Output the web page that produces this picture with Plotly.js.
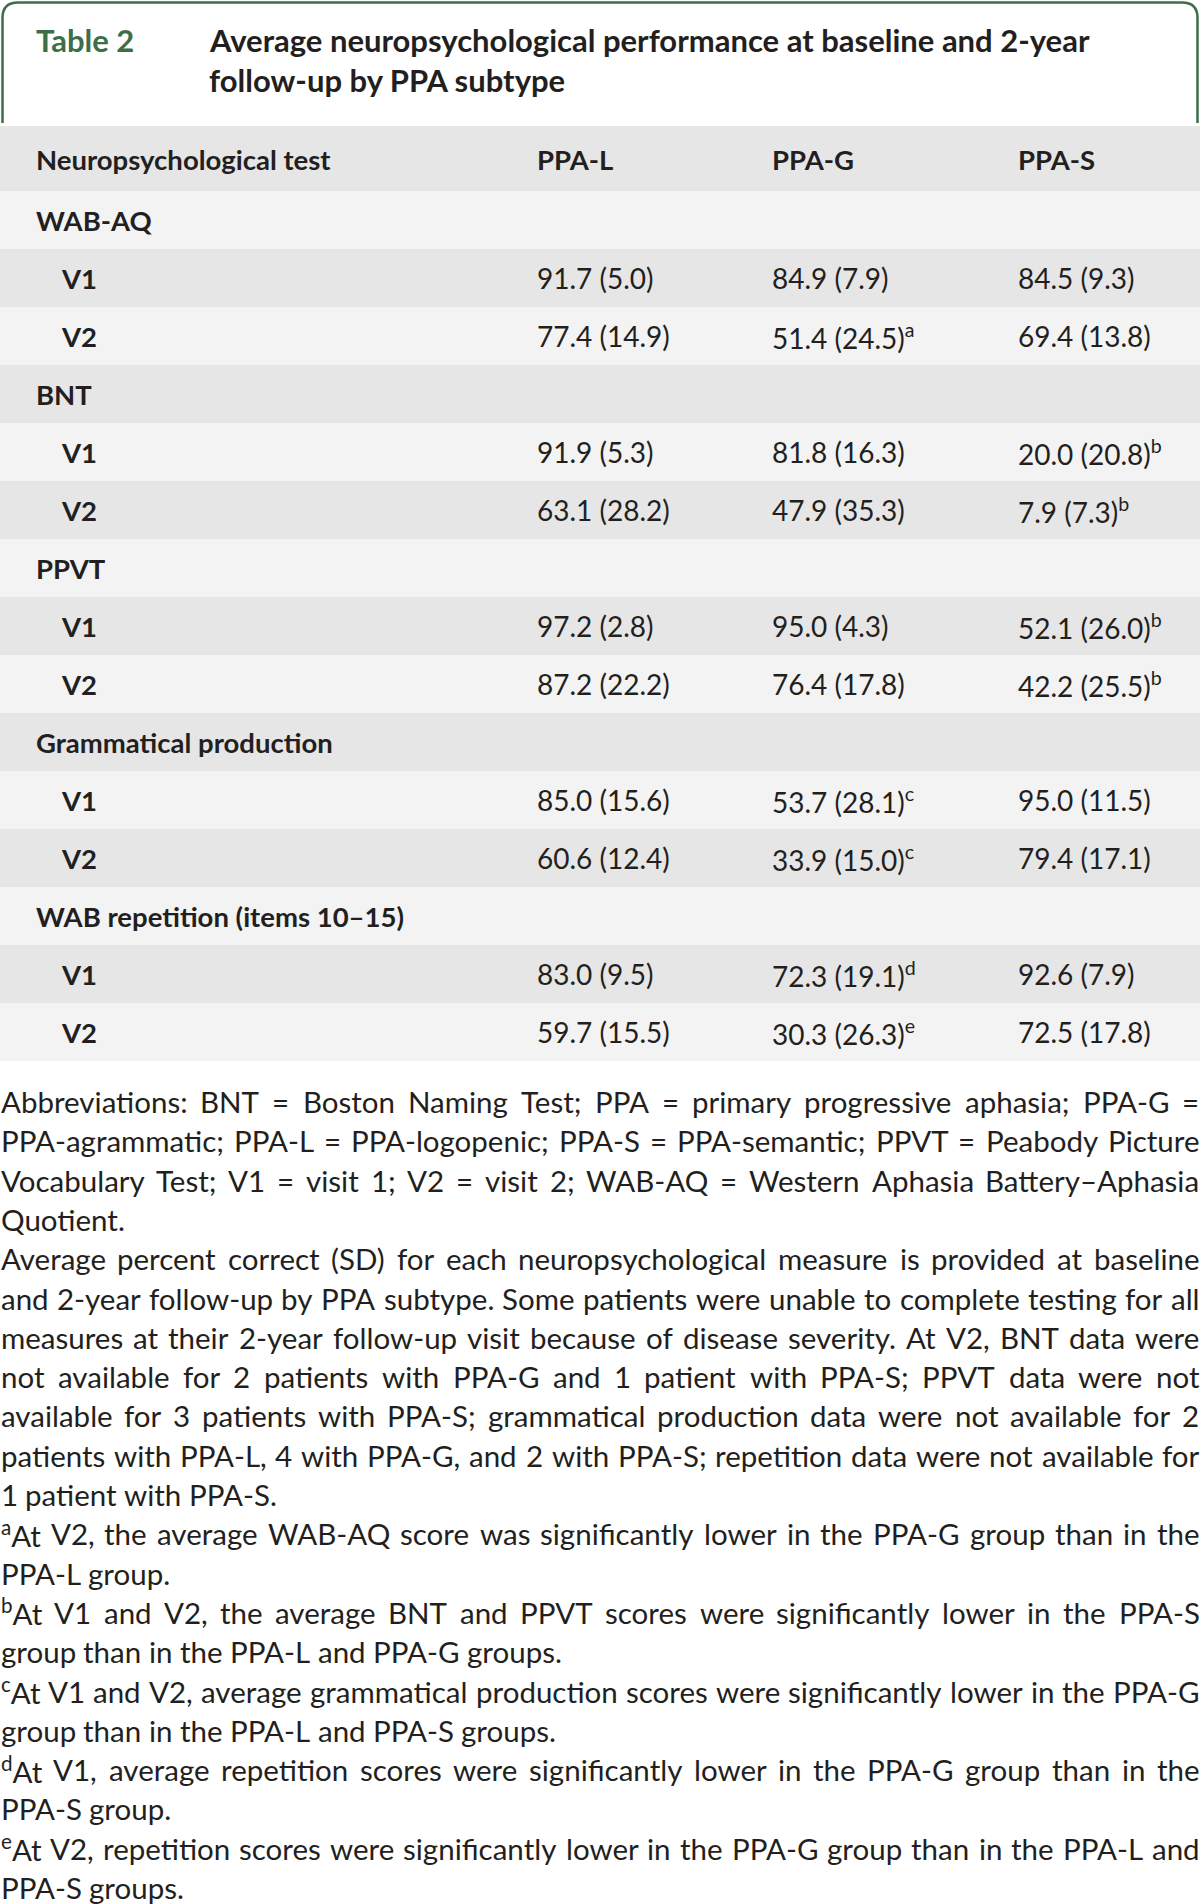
<!DOCTYPE html>
<html><head><meta charset="utf-8">
<script src="https://cdn.plot.ly/plotly-3.0.1.min.js"></script>
<style>html,body{margin:0;padding:0;background:#fff}</style>
</head><body><div id="chart" style="width:1200px;height:1904px"></div>
<script>
// ---------------- data ----------------
const tableLabel = "Table 2";
const titleLines = ["Average neuropsychological performance at baseline and 2-year", "follow-up by PPA subtype"];
const columnHeaders = ["Neuropsychological test", "PPA-L", "PPA-G", "PPA-S"];
const tests = ["WAB-AQ", "BNT", "PPVT", "Grammatical production", "WAB repetition (items 10–15)"];
const visits = ["V1", "V2"];
const ppaL_mean = [[91.7, 77.4], [91.9, 63.1], [97.2, 87.2], [85.0, 60.6], [83.0, 59.7]];
const ppaL_sd   = [[5.0, 14.9], [5.3, 28.2], [2.8, 22.2], [15.6, 12.4], [9.5, 15.5]];
const ppaL_note = [["", ""], ["", ""], ["", ""], ["", ""], ["", ""]];
const ppaG_mean = [[84.9, 51.4], [81.8, 47.9], [95.0, 76.4], [53.7, 33.9], [72.3, 30.3]];
const ppaG_sd   = [[7.9, 24.5], [16.3, 35.3], [4.3, 17.8], [28.1, 15.0], [19.1, 26.3]];
const ppaG_note = [["", "a"], ["", ""], ["", ""], ["c", "c"], ["d", "e"]];
const ppaS_mean = [[84.5, 69.4], [20.0, 7.9], [52.1, 42.2], [95.0, 79.4], [92.6, 72.5]];
const ppaS_sd   = [[9.3, 13.8], [20.8, 7.3], [26.0, 25.5], [11.5, 17.1], [7.9, 17.8]];
const ppaS_note = [["", ""], ["b", "b"], ["b", "b"], ["", ""], ["", ""]];

const footnoteParagraphs = [
  ["Abbreviations: BNT = Boston Naming Test; PPA = primary progressive aphasia; PPA-G =",
   "PPA-agrammatic; PPA-L = PPA-logopenic; PPA-S = PPA-semantic; PPVT = Peabody Picture",
   "Vocabulary Test; V1 = visit 1; V2 = visit 2; WAB-AQ = Western Aphasia Battery–Aphasia",
   "Quotient."],
  ["Average percent correct (SD) for each neuropsychological measure is provided at baseline",
   "and 2-year follow-up by PPA subtype. Some patients were unable to complete testing for all",
   "measures at their 2-year follow-up visit because of disease severity. At V2, BNT data were",
   "not available for 2 patients with PPA-G and 1 patient with PPA-S; PPVT data were not",
   "available for 3 patients with PPA-S; grammatical production data were not available for 2",
   "patients with PPA-L, 4 with PPA-G, and 2 with PPA-S; repetition data were not available for",
   "1 patient with PPA-S."],
  ["<sup>a</sup>At V2, the average WAB-AQ score was significantly lower in the PPA-G group than in the",
   "PPA-L group."],
  ["<sup>b</sup>At V1 and V2, the average BNT and PPVT scores were significantly lower in the PPA-S",
   "group than in the PPA-L and PPA-G groups."],
  ["<sup>c</sup>At V1 and V2, average grammatical production scores were significantly lower in the PPA-G",
   "group than in the PPA-L and PPA-S groups."],
  ["<sup>d</sup>At V1, average repetition scores were significantly lower in the PPA-G group than in the",
   "PPA-S group."],
  ["<sup>e</sup>At V2, repetition scores were significantly lower in the PPA-G group than in the PPA-L and",
   "PPA-S groups."]
];

// ---------------- style / layout ----------------
const FAMILY = 'Lato';
const ink = '#231f20', green = '#3c6e47';
const darkRow = '#e6e6e6', lightRow = '#f3f3f3';
const W = 1200, H = 1904;
const headTop = 126, headBot = 191, rowH = 58.0;
const colX = [36, 537, 772, 1018];
const indentX = 61;
const valueSize = 28, labelSize = 27.5, titleSize = 31, noteSize = 29.5;
const noteTop = 1101.5, noteStep = 39.3;

const cv = document.createElement('canvas').getContext('2d');
function measure(txt, size, weight) {
  let w = 0;
  const parts = txt.split(/(<sup>.*?<\/sup>)/);
  parts.forEach(p => {
    if (!p) return;
    const m = p.match(/^<sup>(.*)<\/sup>$/);
    if (m) { cv.font = `${weight || 'normal'} ${size * 0.7}px ${FAMILY}`; w += cv.measureText(m[1]).width; }
    else { cv.font = `${weight || 'normal'} ${size}px ${FAMILY}`; w += cv.measureText(p).width; }
  });
  return w;
}

const shapes = [];
const annotations = [];
function ann(text, x, y, size, opts) {
  annotations.push(Object.assign({
    text: text, x: x, y: y, xref: 'x', yref: 'y', xanchor: 'left', yanchor: 'middle',
    showarrow: false, borderpad: 0, borderwidth: 0,
    font: {family: FAMILY, size: size, color: ink}
  }, opts || {}));
}

// title frame
shapes.push({type: 'path', xref: 'x', yref: 'y',
  path: 'M 2.5,123 L 2.5,18 Q 2.5,2.5 18,2.5 L 1182,2.5 Q 1197.5,2.5 1197.5,18 L 1197.5,123',
  line: {color: green, width: 2.5}});
ann(`<b>${tableLabel}</b>`, 36, 40, titleSize, {font: {family: FAMILY, size: titleSize, color: green}});
titleLines.forEach((t, i) => ann(`<b>${t}</b>`, 209, 40 + i * 40, titleSize));

// header row
shapes.push({type: 'rect', xref: 'x', yref: 'y', x0: 0, x1: W, y0: headTop, y1: headBot, fillcolor: darkRow, line: {width: 0}, layer: 'below'});
columnHeaders.forEach((h, c) => ann(`<b>${h}</b>`, colX[c], (headTop + headBot) / 2 + 1, labelSize));

// body rows
const groups = [[ppaL_mean, ppaL_sd, ppaL_note], [ppaG_mean, ppaG_sd, ppaG_note], [ppaS_mean, ppaS_sd, ppaS_note]];
let r = 0;
function rowY(k) { return headBot + rowH * (k + 0.5); }
function rowRect(k) {
  shapes.push({type: 'rect', xref: 'x', yref: 'y', x0: 0, x1: W, y0: headBot + rowH * k, y1: headBot + rowH * (k + 1),
    fillcolor: k % 2 === 0 ? lightRow : darkRow, line: {width: 0}, layer: 'below'});
}
tests.forEach((t, ti) => {
  rowRect(r);
  ann(`<b>${t}</b>`, colX[0], rowY(r), labelSize);
  r++;
  visits.forEach((v, vi) => {
    rowRect(r);
    ann(`<b>${v}</b>`, indentX, rowY(r), labelSize);
    groups.forEach((g, gi) => {
      const note = g[2][ti][vi];
      const txt = `${g[0][ti][vi].toFixed(1)} (${g[1][ti][vi].toFixed(1)})` + (note ? `<sup>${note}</sup>` : '');
      ann(txt, colX[gi + 1], rowY(r), valueSize);
    });
    r++;
  });
});

// footnotes (justified: words spread across the full width, last line of a paragraph left-aligned)
let line = 0;
footnoteParagraphs.forEach(par => {
  par.forEach((txt, li) => {
    const y = noteTop + noteStep * line;
    const words = txt.split(' ');
    const widths = words.map(w => measure(w, noteSize));
    const total = widths.reduce((a, b) => a + b, 0);
    const last = li === par.length - 1;
    const gap = (!last && words.length > 1) ? (W - 1 - total) / (words.length - 1) : measure(' ', noteSize);
    let x = 0.5;
    words.forEach((w, i) => { ann(w, x, y, noteSize); x += widths[i] + gap; });
    line++;
  });
});

const layout = {
  width: W, height: H, margin: {l: 0, r: 0, t: 0, b: 0},
  paper_bgcolor: '#ffffff', plot_bgcolor: '#ffffff', showlegend: false,
  xaxis: {range: [0, W], visible: false, fixedrange: true},
  yaxis: {range: [H, 0], visible: false, fixedrange: true},
  shapes: shapes, annotations: annotations
};
Plotly.newPlot('chart', [], layout, {staticPlot: true, displayModeBar: false});
</script></body></html>
